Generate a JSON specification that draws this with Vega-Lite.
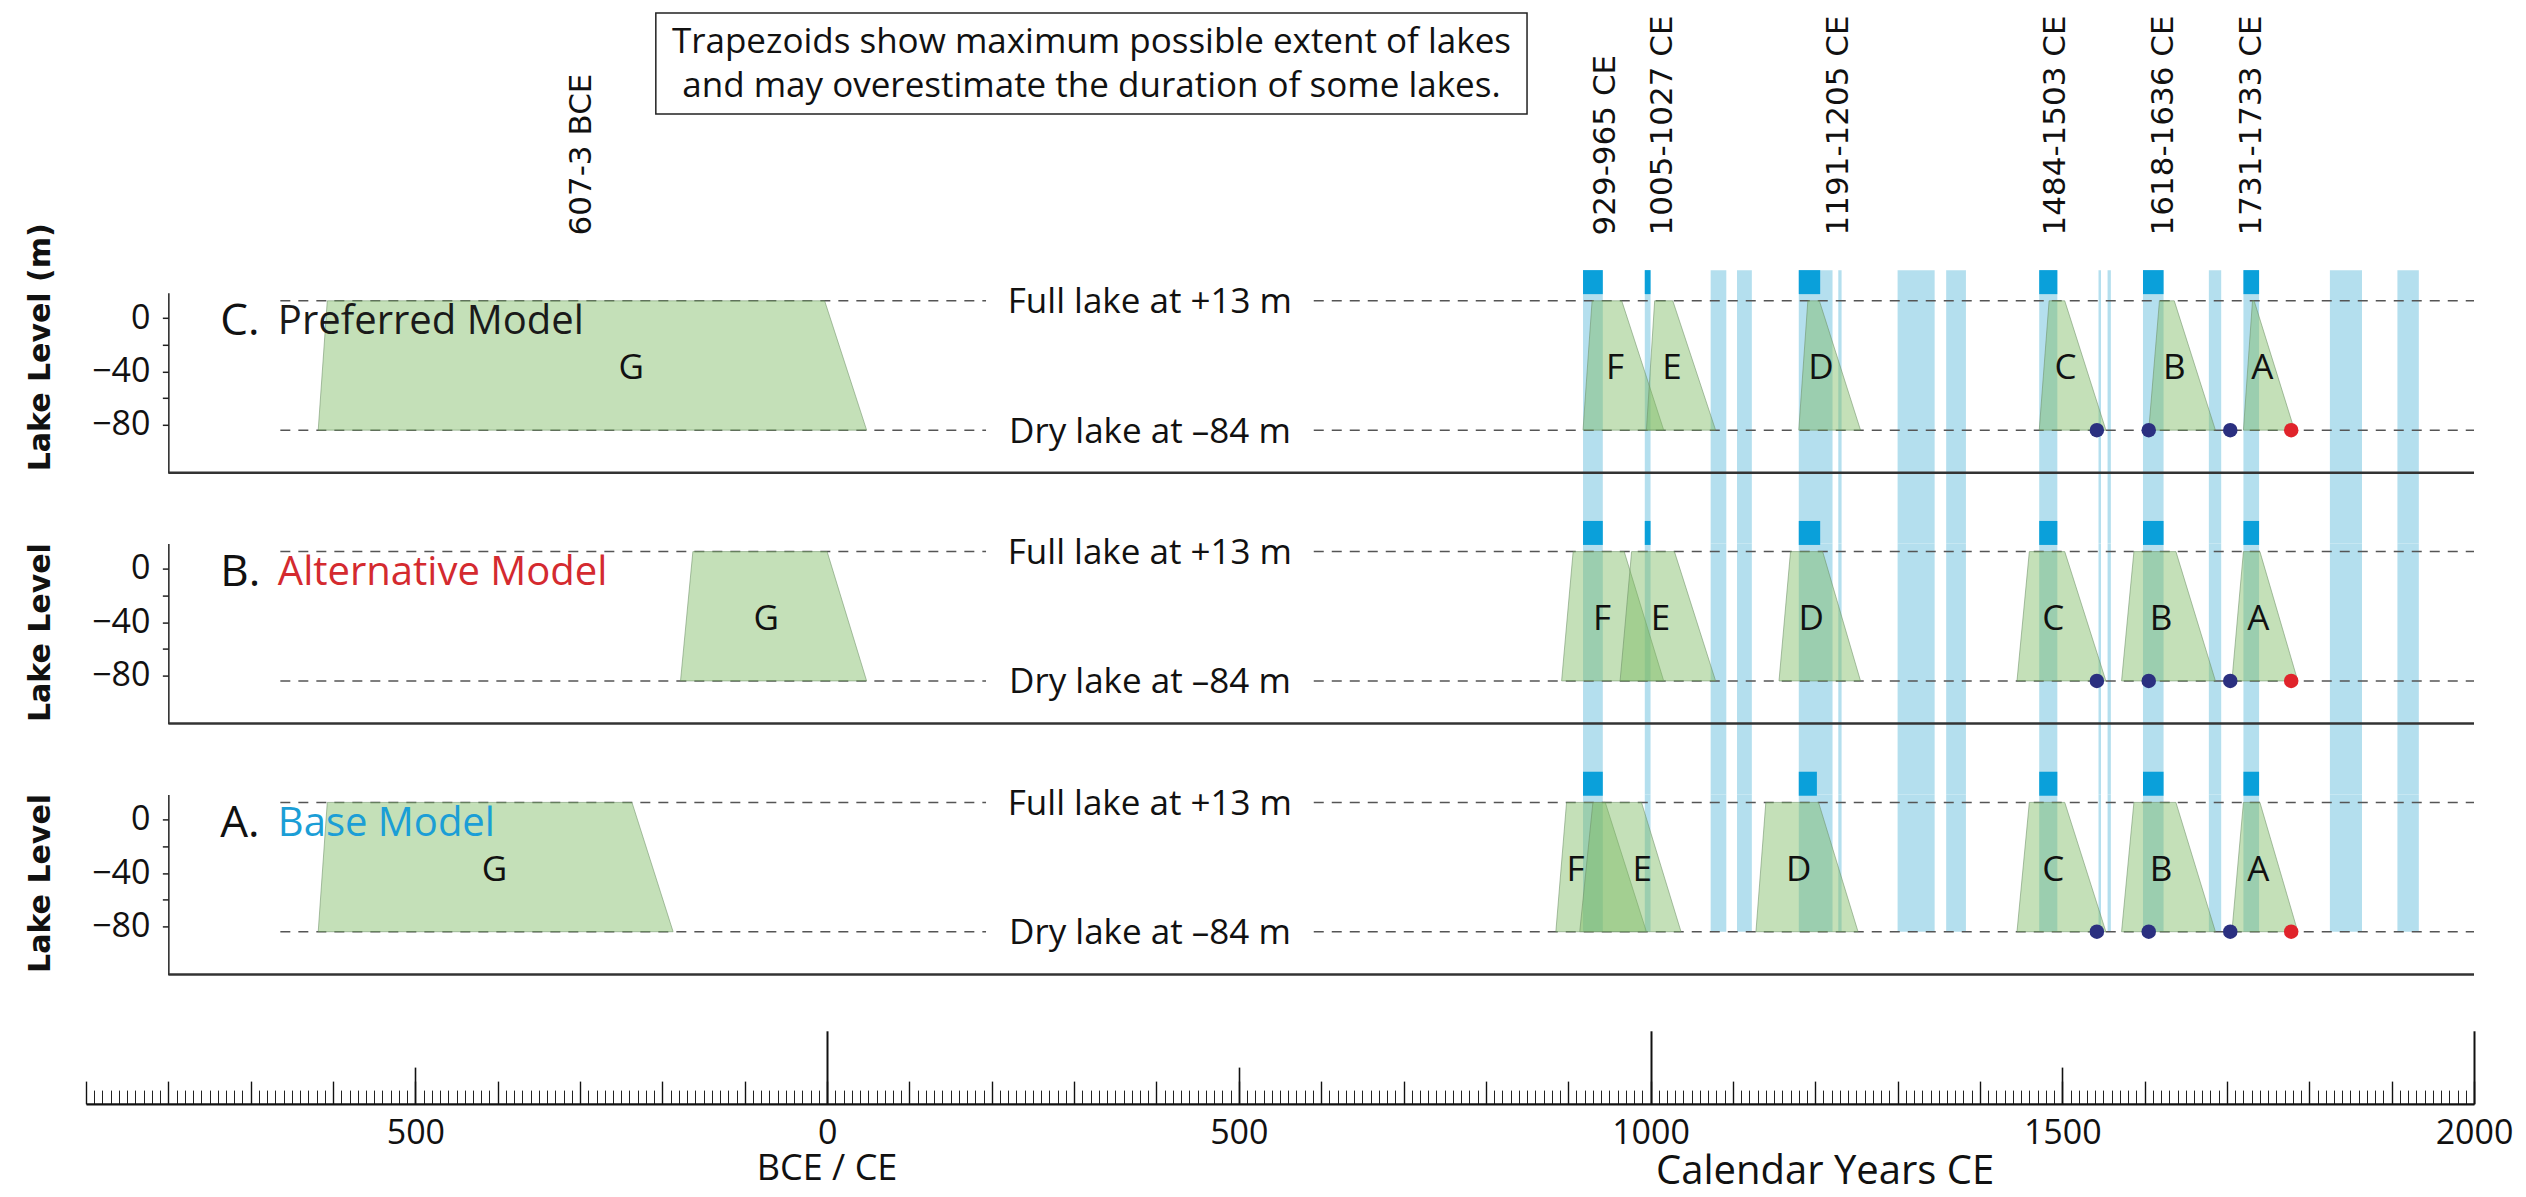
{
  "$schema": "https://vega.github.io/schema/vega-lite/v6.json",
  "background": "white",
  "padding": {"left": 25, "top": 12, "right": 0, "bottom": 6},
  "autosize": {"type": "pad"},
  "bounds": "flush",
  "spacing": 70.8,
  "config": {"view": {"stroke": null}, "axis": {"grid": false, "labelFlush": false}},
  "datasets": {
    "bands": [
      {"start": 918, "end": 942}, {"start": 993, "end": 1000}, {"start": 1073, "end": 1092}, {"start": 1105, "end": 1123},
      {"start": 1180, "end": 1221}, {"start": 1228, "end": 1232}, {"start": 1300, "end": 1345}, {"start": 1359, "end": 1383},
      {"start": 1472, "end": 1494}, {"start": 1544, "end": 1547}, {"start": 1555, "end": 1559}, {"start": 1598, "end": 1623},
      {"start": 1678, "end": 1693}, {"start": 1720, "end": 1739}, {"start": 1825, "end": 1864}, {"start": 1907, "end": 1933}
    ],
    "squares": [
      {"m": "C", "start": 918, "end": 942}, {"m": "C", "start": 993, "end": 1000}, {"m": "C", "start": 1180, "end": 1206},
      {"m": "C", "start": 1472, "end": 1494}, {"m": "C", "start": 1598, "end": 1623}, {"m": "C", "start": 1720, "end": 1739},
      {"m": "B", "start": 918, "end": 942}, {"m": "B", "start": 993, "end": 1000}, {"m": "B", "start": 1180, "end": 1206},
      {"m": "B", "start": 1472, "end": 1494}, {"m": "B", "start": 1598, "end": 1623}, {"m": "B", "start": 1720, "end": 1739},
      {"m": "A", "start": 918, "end": 942}, {"m": "A", "start": 1180, "end": 1202},
      {"m": "A", "start": 1472, "end": 1494}, {"m": "A", "start": 1598, "end": 1623}, {"m": "A", "start": 1720, "end": 1739}
    ],
    "dashes": [
      {"level": 13, "x1": -664, "x2": 193}, {"level": 13, "x1": 591, "x2": 2000},
      {"level": -84, "x1": -664, "x2": 193}, {"level": -84, "x1": 591, "x2": 2000}
    ],
    "levelText": [
      {"level": 13, "x": 392, "text": "Full lake at +13 m"},
      {"level": -84, "x": 392, "text": "Dry lake at –84 m"}
    ],
    "frame": [{"x1": -800, "x2": 2000}],
    "dots": [
      {"x": 1542, "kind": "dated"}, {"x": 1605, "kind": "dated"}, {"x": 1704, "kind": "dated"}, {"x": 1778, "kind": "historic"}
    ],
    "models": [
      {"m": "C", "letter": "C.", "name": "Preferred Model"},
      {"m": "B", "letter": "B.", "name": "Alternative Model"},
      {"m": "A", "letter": "A.", "name": "Base Model"}
    ],
    "lakeLabels": [
      {"m": "C", "lake": "G", "x": -238}, {"m": "C", "lake": "F", "x": 957}, {"m": "C", "lake": "E", "x": 1026}, {"m": "C", "lake": "D", "x": 1207},
      {"m": "C", "lake": "C", "x": 1504}, {"m": "C", "lake": "B", "x": 1636}, {"m": "C", "lake": "A", "x": 1743},
      {"m": "B", "lake": "G", "x": -74}, {"m": "B", "lake": "F", "x": 941}, {"m": "B", "lake": "E", "x": 1012}, {"m": "B", "lake": "D", "x": 1195},
      {"m": "B", "lake": "C", "x": 1489}, {"m": "B", "lake": "B", "x": 1620}, {"m": "B", "lake": "A", "x": 1738},
      {"m": "A", "lake": "G", "x": -404}, {"m": "A", "lake": "F", "x": 909}, {"m": "A", "lake": "E", "x": 990}, {"m": "A", "lake": "D", "x": 1180},
      {"m": "A", "lake": "C", "x": 1489}, {"m": "A", "lake": "B", "x": 1620}, {"m": "A", "lake": "A", "x": 1738}
    ],
    "lakes": [
      {"m": "C", "lake": "G", "y": 13, "x1": -607, "x2": -3}, {"m": "C", "lake": "G", "y": -84, "x1": -618, "x2": 48},
      {"m": "C", "lake": "F", "y": 13, "x1": 929, "x2": 965}, {"m": "C", "lake": "F", "y": -84, "x1": 918, "x2": 1016},
      {"m": "C", "lake": "E", "y": 13, "x1": 1005, "x2": 1027}, {"m": "C", "lake": "E", "y": -84, "x1": 995, "x2": 1079},
      {"m": "C", "lake": "D", "y": 13, "x1": 1191, "x2": 1205}, {"m": "C", "lake": "D", "y": -84, "x1": 1180, "x2": 1255},
      {"m": "C", "lake": "C", "y": 13, "x1": 1484, "x2": 1503}, {"m": "C", "lake": "C", "y": -84, "x1": 1472, "x2": 1553},
      {"m": "C", "lake": "B", "y": 13, "x1": 1618, "x2": 1636}, {"m": "C", "lake": "B", "y": -84, "x1": 1605, "x2": 1686},
      {"m": "C", "lake": "A", "y": 13, "x1": 1731, "x2": 1733}, {"m": "C", "lake": "A", "y": -84, "x1": 1720, "x2": 1782},
      {"m": "B", "lake": "G", "y": 13, "x1": -163, "x2": 0}, {"m": "B", "lake": "G", "y": -84, "x1": -178, "x2": 48},
      {"m": "B", "lake": "F", "y": 13, "x1": 906, "x2": 968}, {"m": "B", "lake": "F", "y": -84, "x1": 892, "x2": 1016},
      {"m": "B", "lake": "E", "y": 13, "x1": 977, "x2": 1029}, {"m": "B", "lake": "E", "y": -84, "x1": 963, "x2": 1079},
      {"m": "B", "lake": "D", "y": 13, "x1": 1170, "x2": 1209}, {"m": "B", "lake": "D", "y": -84, "x1": 1156, "x2": 1255},
      {"m": "B", "lake": "C", "y": 13, "x1": 1460, "x2": 1503}, {"m": "B", "lake": "C", "y": -84, "x1": 1445, "x2": 1553},
      {"m": "B", "lake": "B", "y": 13, "x1": 1587, "x2": 1638}, {"m": "B", "lake": "B", "y": -84, "x1": 1572, "x2": 1686},
      {"m": "B", "lake": "A", "y": 13, "x1": 1720, "x2": 1740}, {"m": "B", "lake": "A", "y": -84, "x1": 1706, "x2": 1786},
      {"m": "A", "lake": "G", "y": 13, "x1": -607, "x2": -237}, {"m": "A", "lake": "G", "y": -84, "x1": -618, "x2": -187},
      {"m": "A", "lake": "F", "y": 13, "x1": 898, "x2": 945}, {"m": "A", "lake": "F", "y": -84, "x1": 885, "x2": 995},
      {"m": "A", "lake": "E", "y": 13, "x1": 930, "x2": 989}, {"m": "A", "lake": "E", "y": -84, "x1": 914, "x2": 1037},
      {"m": "A", "lake": "D", "y": 13, "x1": 1140, "x2": 1204}, {"m": "A", "lake": "D", "y": -84, "x1": 1128, "x2": 1252},
      {"m": "A", "lake": "C", "y": 13, "x1": 1460, "x2": 1503}, {"m": "A", "lake": "C", "y": -84, "x1": 1445, "x2": 1553},
      {"m": "A", "lake": "B", "y": 13, "x1": 1587, "x2": 1638}, {"m": "A", "lake": "B", "y": -84, "x1": 1572, "x2": 1686},
      {"m": "A", "lake": "A", "y": 13, "x1": 1720, "x2": 1740}, {"m": "A", "lake": "A", "y": -84, "x1": 1706, "x2": 1786}
    ],
    "periods": [
      {"label": "607-3 BCE", "x": -298}, {"label": "929-965 CE", "x": 946}, {"label": "1005-1027 CE", "x": 1015},
      {"label": "1191-1205 CE", "x": 1229}, {"label": "1484-1503 CE", "x": 1492}, {"label": "1618-1636 CE", "x": 1623},
      {"label": "1731-1733 CE", "x": 1730}
    ],
    "note": [
      {"line": 1, "text": "Trapezoids show maximum possible extent of lakes"},
      {"line": 2, "text": "and may overestimate the duration of some lakes."}
    ],
    "noteBox": [{"x1": -208, "x2": 850}],
    "axisTitles": [
      {"x": 0, "text": "BCE  /  CE", "kind": "era"},
      {"x": 1212, "text": "Calendar Years CE", "kind": "main"}
    ]
  },
  "vconcat": [
    {
      "width": 2388, "height": 208.2,
      "layer": [
        {"data": {"name": "noteBox"}, "mark": {"type": "rect", "filled": false, "stroke": "#222", "strokeWidth": 1.5},
         "encoding": {
           "x": {"field": "x1", "type": "quantitative", "scale": {"domain": [-900, 2000], "nice": false, "zero": false}, "axis": null},
           "x2": {"field": "x2"},
           "y": {"datum": 1, "type": "quantitative", "scale": {"domain": [0, 1], "nice": false, "zero": false}, "axis": null},
           "y2": {"datum": 0.515}}},
        {"data": {"name": "note"}, "transform": [{"filter": "datum.line == 1"}],
         "mark": {"type": "text", "font": "Open Sans", "fontSize": 35, "align": "center", "baseline": "alphabetic", "color": "#111"},
         "encoding": {
           "x": {"datum": 321, "type": "quantitative", "scale": {"domain": [-900, 2000], "nice": false, "zero": false}, "axis": null},
           "y": {"datum": 0.8064, "type": "quantitative", "scale": {"domain": [0, 1], "nice": false, "zero": false}, "axis": null},
           "text": {"field": "text"}}},
        {"data": {"name": "note"}, "transform": [{"filter": "datum.line == 2"}],
         "mark": {"type": "text", "font": "Open Sans", "fontSize": 35, "align": "center", "baseline": "alphabetic", "color": "#111"},
         "encoding": {
           "x": {"datum": 321, "type": "quantitative", "scale": {"domain": [-900, 2000], "nice": false, "zero": false}, "axis": null},
           "y": {"datum": 0.5965, "type": "quantitative", "scale": {"domain": [0, 1], "nice": false, "zero": false}, "axis": null},
           "text": {"field": "text"}}},
        {"data": {"name": "periods"},
         "mark": {"type": "text", "font": "DejaVu Sans", "fontSize": 31, "angle": 270, "align": "left", "baseline": "middle", "color": "#111"},
         "encoding": {
           "x": {"field": "x", "type": "quantitative", "scale": {"domain": [-900, 2000], "nice": false, "zero": false}, "axis": null},
           "y": {"datum": -0.0687, "type": "quantitative", "scale": {"domain": [0, 1], "nice": false, "zero": false}, "axis": null},
           "text": {"field": "label"}}}
      ]
    },
    {
      "width": 2388, "height": 180,
      "resolve": {"axis": {"x": "independent", "y": "independent"}, "scale": {"color": "independent"}},
      "layer": [
        {"data": {"name": "bands"}, "mark": {"type": "rect", "fill": "#b4dfee"},
         "encoding": {
           "x": {"field": "start", "type": "quantitative", "scale": {"domain": [-900, 2000], "nice": false, "zero": false}, "axis": null},
           "x2": {"field": "end"},
           "y": {"datum": 36, "type": "quantitative", "scale": {"domain": [-116, 19], "nice": false, "zero": false}, "axis": null},
           "y2": {"datum": -169.1}}},
        {"data": {"name": "squares"}, "transform": [{"filter": "datum.m == 'C'"}], "mark": {"type": "rect", "fill": "#0aa0da"},
         "encoding": {
           "x": {"field": "start", "type": "quantitative", "scale": {"domain": [-900, 2000], "nice": false, "zero": false}, "axis": null},
           "x2": {"field": "end"},
           "y": {"datum": 36, "type": "quantitative", "scale": {"domain": [-116, 19], "nice": false, "zero": false}, "axis": null},
           "y2": {"datum": 18}}},
        {"data": {"name": "dashes"}, "mark": {"type": "rule", "color": "#555", "strokeWidth": 1.5, "strokeDash": [10, 8]},
         "encoding": {
           "x": {"field": "x1", "type": "quantitative", "scale": {"domain": [-900, 2000], "nice": false, "zero": false}, "axis": null},
           "x2": {"field": "x2"},
           "y": {"field": "level", "type": "quantitative", "scale": {"domain": [-116, 19], "nice": false, "zero": false},
                 "axis": {"orient": "left", "offset": -82.35, "values": [-80, -60, -40, -20, 0],
                          "labelExpr": "datum.value % 40 === 0 ? datum.label : ''",
                          "tickSize": 6, "tickWidth": 1.5, "tickColor": "#222", "domainColor": "#222", "domainWidth": 1.5,
                          "labelPadding": 12.5, "labelFont": "Open Sans", "labelFontSize": 34, "labelColor": "#111",
                          "labelFlush": false, "labelOverlap": false, "grid": false,
                          "title": "Lake Level (m)", "titleFont": "DejaVu Sans", "titleFontSize": 30, "titleFontWeight": "bold",
                          "titleColor": "#111", "titleX": -113, "titleY": 178, "titleAlign": "left", "titleAngle": 270, "titleBaseline": "bottom"}}}},
        {"data": {"name": "levelText"},
         "mark": {"type": "text", "font": "Open Sans", "fontSize": 35, "align": "center", "baseline": "alphabetic", "dy": 12.5, "color": "#111"},
         "encoding": {
           "x": {"field": "x", "type": "quantitative", "scale": {"domain": [-900, 2000], "nice": false, "zero": false}, "axis": null},
           "y": {"field": "level", "type": "quantitative", "scale": {"domain": [-116, 19], "nice": false, "zero": false}, "axis": null},
           "text": {"field": "text"}}},
        {"data": {"name": "frame"}, "mark": {"type": "rule", "color": "#333", "strokeWidth": 2.5},
         "encoding": {
           "x": {"field": "x1", "type": "quantitative", "scale": {"domain": [-900, 2000], "nice": false, "zero": false}, "axis": null},
           "x2": {"field": "x2"},
           "y": {"datum": -116, "type": "quantitative", "scale": {"domain": [-116, 19], "nice": false, "zero": false}, "axis": null}}},
        {"data": {"name": "lakes"}, "transform": [{"filter": "datum.m == 'C'"}],
         "mark": {"type": "area", "orient": "horizontal", "fill": "#7cba61", "fillOpacity": 0.45, "stroke": "#6e8f66", "strokeWidth": 0.8, "strokeOpacity": 0.7},
         "encoding": {
           "y": {"field": "y", "type": "quantitative", "scale": {"domain": [-116, 19], "nice": false, "zero": false}, "axis": null},
           "x": {"field": "x1", "type": "quantitative", "stack": null, "scale": {"domain": [-900, 2000], "nice": false, "zero": false}, "axis": null},
           "x2": {"field": "x2"},
           "detail": {"field": "lake"}}},
        {"data": {"name": "lakeLabels"}, "transform": [{"filter": "datum.m == 'C'"}],
         "mark": {"type": "text", "font": "Open Sans", "fontSize": 35, "align": "center", "baseline": "alphabetic", "color": "#111"},
         "encoding": {
           "x": {"field": "x", "type": "quantitative", "scale": {"domain": [-900, 2000], "nice": false, "zero": false}, "axis": null},
           "y": {"datum": -45.7, "type": "quantitative", "scale": {"domain": [-116, 19], "nice": false, "zero": false}, "axis": null},
           "text": {"field": "lake"}}},
        {"data": {"name": "dots"}, "mark": {"type": "point", "filled": true, "size": 210, "opacity": 1},
         "encoding": {
           "x": {"field": "x", "type": "quantitative", "scale": {"domain": [-900, 2000], "nice": false, "zero": false}, "axis": null},
           "y": {"datum": -84, "type": "quantitative", "scale": {"domain": [-116, 19], "nice": false, "zero": false}, "axis": null},
           "color": {"field": "kind", "type": "nominal", "scale": {"domain": ["dated", "historic"], "range": ["#2b3080", "#e0242b"]}, "legend": null}}},
        {"data": {"name": "models"}, "transform": [{"filter": "datum.m == 'C'"}],
         "mark": {"type": "text", "font": "Open Sans", "fontSize": 40, "align": "left", "baseline": "alphabetic", "fill": "#1a1a1a"},
         "encoding": {
           "x": {"datum": -667, "type": "quantitative", "scale": {"domain": [-900, 2000], "nice": false, "zero": false}, "axis": null},
           "y": {"datum": -12, "type": "quantitative", "scale": {"domain": [-116, 19], "nice": false, "zero": false}, "axis": null},
           "text": {"field": "name"}}},
        {"data": {"name": "models"}, "transform": [{"filter": "datum.m == 'C'"}],
         "mark": {"type": "text", "font": "Open Sans", "fontSize": 44, "align": "left", "baseline": "alphabetic", "color": "#111"},
         "encoding": {
           "x": {"datum": -737, "type": "quantitative", "scale": {"domain": [-900, 2000], "nice": false, "zero": false}, "axis": null},
           "y": {"datum": -13, "type": "quantitative", "scale": {"domain": [-116, 19], "nice": false, "zero": false}, "axis": null},
           "text": {"field": "letter"}}}
      ]
    },
    {
      "width": 2388, "height": 180,
      "resolve": {"axis": {"x": "independent", "y": "independent"}, "scale": {"color": "independent"}},
      "layer": [
        {"data": {"name": "bands"}, "mark": {"type": "rect", "fill": "#b4dfee"},
         "encoding": {
           "x": {"field": "start", "type": "quantitative", "scale": {"domain": [-900, 2000], "nice": false, "zero": false}, "axis": null},
           "x2": {"field": "end"},
           "y": {"datum": 19, "type": "quantitative", "scale": {"domain": [-116, 19], "nice": false, "zero": false}, "axis": null},
           "y2": {"datum": -169.1}}},
        {"data": {"name": "squares"}, "transform": [{"filter": "datum.m == 'B'"}], "mark": {"type": "rect", "fill": "#0aa0da"},
         "encoding": {
           "x": {"field": "start", "type": "quantitative", "scale": {"domain": [-900, 2000], "nice": false, "zero": false}, "axis": null},
           "x2": {"field": "end"},
           "y": {"datum": 36, "type": "quantitative", "scale": {"domain": [-116, 19], "nice": false, "zero": false}, "axis": null},
           "y2": {"datum": 18}}},
        {"data": {"name": "dashes"}, "mark": {"type": "rule", "color": "#555", "strokeWidth": 1.5, "strokeDash": [10, 8]},
         "encoding": {
           "x": {"field": "x1", "type": "quantitative", "scale": {"domain": [-900, 2000], "nice": false, "zero": false}, "axis": null},
           "x2": {"field": "x2"},
           "y": {"field": "level", "type": "quantitative", "scale": {"domain": [-116, 19], "nice": false, "zero": false},
                 "axis": {"orient": "left", "offset": -82.35, "values": [-80, -60, -40, -20, 0],
                          "labelExpr": "datum.value % 40 === 0 ? datum.label : ''",
                          "tickSize": 6, "tickWidth": 1.5, "tickColor": "#222", "domainColor": "#222", "domainWidth": 1.5,
                          "labelPadding": 12.5, "labelFont": "Open Sans", "labelFontSize": 34, "labelColor": "#111",
                          "labelFlush": false, "labelOverlap": false, "grid": false,
                          "title": "Lake Level", "titleFont": "DejaVu Sans", "titleFontSize": 30, "titleFontWeight": "bold",
                          "titleColor": "#111", "titleX": -113, "titleY": 178, "titleAlign": "left", "titleAngle": 270, "titleBaseline": "bottom"}}}},
        {"data": {"name": "levelText"},
         "mark": {"type": "text", "font": "Open Sans", "fontSize": 35, "align": "center", "baseline": "alphabetic", "dy": 12.5, "color": "#111"},
         "encoding": {
           "x": {"field": "x", "type": "quantitative", "scale": {"domain": [-900, 2000], "nice": false, "zero": false}, "axis": null},
           "y": {"field": "level", "type": "quantitative", "scale": {"domain": [-116, 19], "nice": false, "zero": false}, "axis": null},
           "text": {"field": "text"}}},
        {"data": {"name": "frame"}, "mark": {"type": "rule", "color": "#333", "strokeWidth": 2.5},
         "encoding": {
           "x": {"field": "x1", "type": "quantitative", "scale": {"domain": [-900, 2000], "nice": false, "zero": false}, "axis": null},
           "x2": {"field": "x2"},
           "y": {"datum": -116, "type": "quantitative", "scale": {"domain": [-116, 19], "nice": false, "zero": false}, "axis": null}}},
        {"data": {"name": "lakes"}, "transform": [{"filter": "datum.m == 'B'"}],
         "mark": {"type": "area", "orient": "horizontal", "fill": "#7cba61", "fillOpacity": 0.45, "stroke": "#6e8f66", "strokeWidth": 0.8, "strokeOpacity": 0.7},
         "encoding": {
           "y": {"field": "y", "type": "quantitative", "scale": {"domain": [-116, 19], "nice": false, "zero": false}, "axis": null},
           "x": {"field": "x1", "type": "quantitative", "stack": null, "scale": {"domain": [-900, 2000], "nice": false, "zero": false}, "axis": null},
           "x2": {"field": "x2"},
           "detail": {"field": "lake"}}},
        {"data": {"name": "lakeLabels"}, "transform": [{"filter": "datum.m == 'B'"}],
         "mark": {"type": "text", "font": "Open Sans", "fontSize": 35, "align": "center", "baseline": "alphabetic", "color": "#111"},
         "encoding": {
           "x": {"field": "x", "type": "quantitative", "scale": {"domain": [-900, 2000], "nice": false, "zero": false}, "axis": null},
           "y": {"datum": -45.7, "type": "quantitative", "scale": {"domain": [-116, 19], "nice": false, "zero": false}, "axis": null},
           "text": {"field": "lake"}}},
        {"data": {"name": "dots"}, "mark": {"type": "point", "filled": true, "size": 210, "opacity": 1},
         "encoding": {
           "x": {"field": "x", "type": "quantitative", "scale": {"domain": [-900, 2000], "nice": false, "zero": false}, "axis": null},
           "y": {"datum": -84, "type": "quantitative", "scale": {"domain": [-116, 19], "nice": false, "zero": false}, "axis": null},
           "color": {"field": "kind", "type": "nominal", "scale": {"domain": ["dated", "historic"], "range": ["#2b3080", "#e0242b"]}, "legend": null}}},
        {"data": {"name": "models"}, "transform": [{"filter": "datum.m == 'B'"}],
         "mark": {"type": "text", "font": "Open Sans", "fontSize": 40, "align": "left", "baseline": "alphabetic", "fill": "#d42a2f"},
         "encoding": {
           "x": {"datum": -667, "type": "quantitative", "scale": {"domain": [-900, 2000], "nice": false, "zero": false}, "axis": null},
           "y": {"datum": -12, "type": "quantitative", "scale": {"domain": [-116, 19], "nice": false, "zero": false}, "axis": null},
           "text": {"field": "name"}}},
        {"data": {"name": "models"}, "transform": [{"filter": "datum.m == 'B'"}],
         "mark": {"type": "text", "font": "Open Sans", "fontSize": 44, "align": "left", "baseline": "alphabetic", "color": "#111"},
         "encoding": {
           "x": {"datum": -737, "type": "quantitative", "scale": {"domain": [-900, 2000], "nice": false, "zero": false}, "axis": null},
           "y": {"datum": -13, "type": "quantitative", "scale": {"domain": [-116, 19], "nice": false, "zero": false}, "axis": null},
           "text": {"field": "letter"}}}
      ]
    },
    {
      "width": 2388, "height": 180,
      "resolve": {"axis": {"x": "independent", "y": "independent"}, "scale": {"color": "independent"}},
      "layer": [
        {"data": {"name": "bands"}, "mark": {"type": "rect", "fill": "#b4dfee"},
         "encoding": {
           "x": {"field": "start", "type": "quantitative", "scale": {"domain": [-900, 2000], "nice": false, "zero": false},
                 "axis": {"orient": "bottom", "offset": 129.4, "tickCount": 290, "tickSize": -13.7, "tickWidth": 1, "tickColor": "#222",
                          "labels": false, "domain": true, "domainWidth": 2.2, "domainColor": "#111", "grid": false, "title": null}},
           "x2": {"field": "end"},
           "y": {"datum": 19, "type": "quantitative", "scale": {"domain": [-116, 19], "nice": false, "zero": false}, "axis": null},
           "y2": {"datum": -84}}},
        {"data": {"name": "squares"}, "transform": [{"filter": "datum.m == 'A'"}], "mark": {"type": "rect", "fill": "#0aa0da"},
         "encoding": {
           "x": {"field": "start", "type": "quantitative", "scale": {"domain": [-900, 2000], "nice": false, "zero": false},
                 "axis": {"orient": "bottom", "offset": 129.4,
                          "values": [-900, -800, -700, -600, -500, -400, -300, -200, -100, 0, 100, 200, 300, 400, 500, 600, 700, 800, 900, 1000, 1100, 1200, 1300, 1400, 1500, 1600, 1700, 1800, 1900, 2000],
                          "tickSize": -22.7, "tickWidth": 1.4, "tickColor": "#111", "labels": false, "domain": false, "grid": false, "title": null}},
           "x2": {"field": "end"},
           "y": {"datum": 36, "type": "quantitative", "scale": {"domain": [-116, 19], "nice": false, "zero": false}, "axis": null},
           "y2": {"datum": 18}}},
        {"data": {"name": "dashes"}, "mark": {"type": "rule", "color": "#555", "strokeWidth": 1.5, "strokeDash": [10, 8]},
         "encoding": {
           "x": {"field": "x1", "type": "quantitative", "scale": {"domain": [-900, 2000], "nice": false, "zero": false},
                 "axis": {"orient": "bottom", "offset": 129.4, "values": [-500, 500, 1500], "tickSize": -36.7, "tickWidth": 1.6, "tickColor": "#111",
                          "labels": false, "domain": false, "grid": false, "title": null}},
           "x2": {"field": "x2"},
           "y": {"field": "level", "type": "quantitative", "scale": {"domain": [-116, 19], "nice": false, "zero": false},
                 "axis": {"orient": "left", "offset": -82.35, "values": [-80, -60, -40, -20, 0],
                          "labelExpr": "datum.value % 40 === 0 ? datum.label : ''",
                          "tickSize": 6, "tickWidth": 1.5, "tickColor": "#222", "domainColor": "#222", "domainWidth": 1.5,
                          "labelPadding": 12.5, "labelFont": "Open Sans", "labelFontSize": 34, "labelColor": "#111",
                          "labelFlush": false, "labelOverlap": false, "grid": false,
                          "title": "Lake Level", "titleFont": "DejaVu Sans", "titleFontSize": 30, "titleFontWeight": "bold",
                          "titleColor": "#111", "titleX": -113, "titleY": 178, "titleAlign": "left", "titleAngle": 270, "titleBaseline": "bottom"}}}},
        {"data": {"name": "levelText"},
         "mark": {"type": "text", "font": "Open Sans", "fontSize": 35, "align": "center", "baseline": "alphabetic", "dy": 12.5, "color": "#111"},
         "encoding": {
           "x": {"field": "x", "type": "quantitative", "scale": {"domain": [-900, 2000], "nice": false, "zero": false}, "axis": null},
           "y": {"field": "level", "type": "quantitative", "scale": {"domain": [-116, 19], "nice": false, "zero": false}, "axis": null},
           "text": {"field": "text"}}},
        {"data": {"name": "frame"}, "mark": {"type": "rule", "color": "#333", "strokeWidth": 2.5},
         "encoding": {
           "x": {"field": "x1", "type": "quantitative", "scale": {"domain": [-900, 2000], "nice": false, "zero": false},
                 "axis": {"orient": "bottom", "offset": 129.4, "values": [0, 1000, 2000], "tickSize": -73, "tickWidth": 2, "tickColor": "#111",
                          "labels": false, "domain": false, "grid": false, "title": null}},
           "x2": {"field": "x2"},
           "y": {"datum": -116, "type": "quantitative", "scale": {"domain": [-116, 19], "nice": false, "zero": false}, "axis": null}}},
        {"data": {"name": "lakes"}, "transform": [{"filter": "datum.m == 'A'"}],
         "mark": {"type": "area", "orient": "horizontal", "fill": "#7cba61", "fillOpacity": 0.45, "stroke": "#6e8f66", "strokeWidth": 0.8, "strokeOpacity": 0.7},
         "encoding": {
           "y": {"field": "y", "type": "quantitative", "scale": {"domain": [-116, 19], "nice": false, "zero": false}, "axis": null},
           "x": {"field": "x1", "type": "quantitative", "stack": null, "scale": {"domain": [-900, 2000], "nice": false, "zero": false}, "axis": null},
           "x2": {"field": "x2"},
           "detail": {"field": "lake"}}},
        {"data": {"name": "lakeLabels"}, "transform": [{"filter": "datum.m == 'A'"}],
         "mark": {"type": "text", "font": "Open Sans", "fontSize": 35, "align": "center", "baseline": "alphabetic", "color": "#111"},
         "encoding": {
           "x": {"field": "x", "type": "quantitative", "scale": {"domain": [-900, 2000], "nice": false, "zero": false}, "axis": null},
           "y": {"datum": -45.7, "type": "quantitative", "scale": {"domain": [-116, 19], "nice": false, "zero": false}, "axis": null},
           "text": {"field": "lake"}}},
        {"data": {"name": "dots"}, "mark": {"type": "point", "filled": true, "size": 210, "opacity": 1},
         "encoding": {
           "x": {"field": "x", "type": "quantitative", "scale": {"domain": [-900, 2000], "nice": false, "zero": false},
                 "axis": {"orient": "bottom", "offset": 129.4, "values": [-500, 0, 500, 1000, 1500, 2000], "ticks": false, "domain": false,
                          "labelPadding": 13, "labelExpr": "format(abs(datum.value), 'd')", "labelFont": "Open Sans", "labelFontSize": 34,
                          "labelColor": "#111", "labelFlush": false, "labelOverlap": false, "grid": false, "title": null}},
           "y": {"datum": -84, "type": "quantitative", "scale": {"domain": [-116, 19], "nice": false, "zero": false}, "axis": null},
           "color": {"field": "kind", "type": "nominal", "scale": {"domain": ["dated", "historic"], "range": ["#2b3080", "#e0242b"]}, "legend": null}}},
        {"data": {"name": "models"}, "transform": [{"filter": "datum.m == 'A'"}],
         "mark": {"type": "text", "font": "Open Sans", "fontSize": 40, "align": "left", "baseline": "alphabetic", "fill": "#1b9ed6"},
         "encoding": {
           "x": {"datum": -667, "type": "quantitative", "scale": {"domain": [-900, 2000], "nice": false, "zero": false}, "axis": null},
           "y": {"datum": -12, "type": "quantitative", "scale": {"domain": [-116, 19], "nice": false, "zero": false}, "axis": null},
           "text": {"field": "name"}}},
        {"data": {"name": "models"}, "transform": [{"filter": "datum.m == 'A'"}],
         "mark": {"type": "text", "font": "Open Sans", "fontSize": 44, "align": "left", "baseline": "alphabetic", "color": "#111"},
         "encoding": {
           "x": {"datum": -737, "type": "quantitative", "scale": {"domain": [-900, 2000], "nice": false, "zero": false}, "axis": null},
           "y": {"datum": -13, "type": "quantitative", "scale": {"domain": [-116, 19], "nice": false, "zero": false}, "axis": null},
           "text": {"field": "letter"}}},
        {"data": {"name": "axisTitles"}, "transform": [{"filter": "datum.kind == 'era'"}],
         "mark": {"type": "text", "font": "Open Sans", "fontSize": 36, "align": "center", "baseline": "alphabetic", "color": "#111"},
         "encoding": {
           "x": {"field": "x", "type": "quantitative", "scale": {"domain": [-900, 2000], "nice": false, "zero": false}, "axis": null},
           "y": {"datum": -270, "type": "quantitative", "scale": {"domain": [-116, 19], "nice": false, "zero": false}, "axis": null},
           "text": {"field": "text"}}},
        {"data": {"name": "axisTitles"}, "transform": [{"filter": "datum.kind == 'main'"}],
         "mark": {"type": "text", "font": "Open Sans", "fontSize": 40, "align": "center", "baseline": "alphabetic", "color": "#111"},
         "encoding": {
           "x": {"field": "x", "type": "quantitative", "scale": {"domain": [-900, 2000], "nice": false, "zero": false}, "axis": null},
           "y": {"datum": -273, "type": "quantitative", "scale": {"domain": [-116, 19], "nice": false, "zero": false}, "axis": null},
           "text": {"field": "text"}}}
      ]
    }
  ]
}
